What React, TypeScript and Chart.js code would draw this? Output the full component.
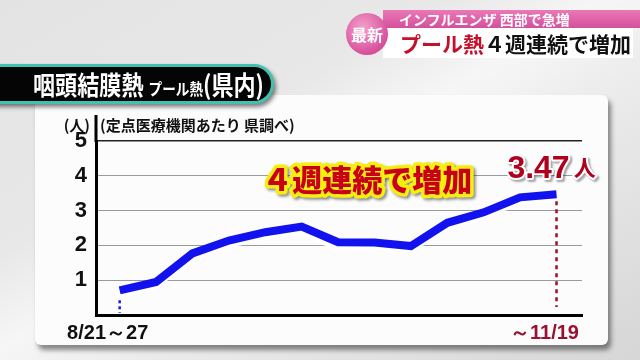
import { useEffect, useRef } from 'react';
import { Chart, registerables } from 'chart.js';

Chart.register(...registerables);

// ---- data ----
const weeks = [
  '8/21～27', '8/28～9/3', '9/4～10', '9/11～17', '9/18～24', '9/25～10/1',
  '10/2～8', '10/9～15', '10/16～22', '10/23～29', '10/30～11/5', '11/6～12', '11/13～19',
];
const values = [0.71, 0.95, 1.77, 2.14, 2.38, 2.54, 2.09, 2.08, 1.98, 2.65, 2.95, 3.38, 3.47];
const xTickLabels = ['8/21～27', '', '', '', '', '', '', '', '', '', '', '', '～11/19'];
const yTickValues = [1, 2, 3, 4, 5];
const headline = '４週連続で増加';
const lastLabelNumber = '3.47';
const lastLabelUnit = '人';
const unitLabel = '(人)';
const sourceLabel = '(定点医療機関あたり 県調べ)';

const JP = '"Noto Sans CJK JP", "Noto Sans", sans-serif';
const NUM = '"Liberation Sans", Arial, sans-serif';

const overlayPlugin = {
  id: 'overlay',
  beforeDatasetDraw(chart: any) {
    const ctx = chart.ctx;
    ctx.save();
    ctx.shadowColor = 'rgba(255,255,255,1)';
    ctx.shadowOffsetX = -2;
    ctx.shadowOffsetY = 4;
    ctx.shadowBlur = 1;
  },
  afterDatasetDraw(chart: any) {
    chart.ctx.restore();
  },
  beforeDatasetsDraw(chart: any) {
    const { ctx, chartArea, scales } = chart;
    const x = scales.x;
    const y = scales.y;
    ctx.save();
    // y axis extension above top
    ctx.strokeStyle = '#000';
    ctx.lineWidth = 3;
    ctx.beginPath();
    ctx.moveTo(chartArea.left, chartArea.top + 1);
    ctx.lineTo(chartArea.left, chartArea.top - 26);
    ctx.stroke();
    // texts above
    ctx.fillStyle = '#111';
    ctx.font = `bold 15px ${JP}`;
    ctx.textBaseline = 'middle';
    ctx.textAlign = 'right';
    ctx.fillText(unitLabel, chartArea.left - 6, chartArea.top - 16);
    ctx.textAlign = 'left';
    ctx.fillText(sourceLabel, chartArea.left + 4, chartArea.top - 16);

    // dotted drop lines
    const n = values.length;
    const x0 = x.getPixelForValue(0);
    const y0 = y.getPixelForValue(values[0]);
    ctx.setLineDash([3, 3]);
    ctx.lineWidth = 2.5;
    ctx.strokeStyle = '#1a1ae0';
    ctx.beginPath();
    ctx.moveTo(x0, y0 + 10);
    ctx.lineTo(x0, chartArea.bottom - 2);
    ctx.stroke();
    const xl = x.getPixelForValue(n - 1);
    const yl = y.getPixelForValue(values[n - 1]);
    ctx.setLineDash([4, 4]);
    ctx.strokeStyle = '#9a1030';
    ctx.beginPath();
    ctx.moveTo(xl, yl + 7);
    ctx.lineTo(xl, chartArea.bottom - 8);
    ctx.stroke();
    ctx.restore();
  },
  afterDatasetsDraw(chart: any) {
    const { ctx, scales } = chart;
    const x = scales.x;
    const y = scales.y;
    const n = values.length;
    ctx.save();
    // headline
    const hx = x.getPixelForValue(6.8);
    const hy = y.getPixelForValue(3.9);
    ctx.font = `900 30px ${JP}`;
    ctx.textAlign = 'center';
    ctx.textBaseline = 'middle';
    ctx.lineJoin = 'round';
    ctx.shadowColor = 'rgba(0,0,0,0.45)';
    ctx.shadowOffsetX = 2;
    ctx.shadowOffsetY = 2;
    ctx.shadowBlur = 3;
    ctx.strokeStyle = '#f6ee10';
    ctx.lineWidth = 7;
    ctx.strokeText(headline, hx, hy);
    ctx.shadowColor = 'transparent';
    ctx.fillStyle = '#c8001a';
    ctx.fillText(headline, hx, hy);

    // last value label
    const lx = x.getPixelForValue(n - 1);
    const ly = y.getPixelForValue(values[n - 1]);
    ctx.textBaseline = 'alphabetic';
    ctx.font = `bold 32px ${NUM}`;
    const numW = ctx.measureText(lastLabelNumber).width;
    ctx.font = `bold 22px ${JP}`;
    const unitW = ctx.measureText(lastLabelUnit).width;
    const total = numW + unitW + 4;
    const startX = lx - 5 - total / 2;
    const base = ly - 16;
    ctx.textAlign = 'left';
    ctx.shadowColor = 'rgba(0,0,0,0.35)';
    ctx.shadowOffsetX = 2;
    ctx.shadowOffsetY = 2;
    ctx.shadowBlur = 2;
    ctx.strokeStyle = '#fff';
    ctx.lineWidth = 4;
    ctx.font = `bold 32px ${NUM}`;
    ctx.strokeText(lastLabelNumber, startX, base);
    ctx.font = `bold 22px ${JP}`;
    ctx.strokeText(lastLabelUnit, startX + numW + 4, base - 2);
    ctx.shadowColor = 'transparent';
    ctx.fillStyle = '#b0001e';
    ctx.font = `bold 32px ${NUM}`;
    ctx.fillText(lastLabelNumber, startX, base);
    ctx.font = `bold 22px ${JP}`;
    ctx.fillText(lastLabelUnit, startX + numW + 4, base - 2);
    ctx.restore();
  },
};

function ChartCanvas() {
  const ref = useRef<HTMLCanvasElement | null>(null);
  useEffect(() => {
    if (!ref.current) return;
    const chart = new Chart(ref.current, {
      type: 'line',
      data: {
        labels: weeks,
        datasets: [
          {
            data: values.map((v, i) => ({ x: i, y: v })),
            borderColor: '#1212ee',
            borderWidth: 8,
            pointRadius: 0,
            tension: 0,
            borderCapStyle: 'butt',
            borderJoinStyle: 'miter',
            fill: false,
          },
        ],
      },
      options: {
        animation: false,
        responsive: false,
        maintainAspectRatio: false,
        layout: { padding: { left: 0, right: 58, top: 141, bottom: 12 } },
        plugins: { legend: { display: false }, tooltip: { enabled: false } },
        scales: {
          x: {
            type: 'linear',
            min: -0.65,
            max: 12.7,
            afterBuildTicks: (scale: any) => {
              scale.ticks = weeks.map((_, i) => ({ value: i }));
            },
            afterFit: (scale: any) => {
              scale.height = 33;
            },
            grid: { display: false, drawTicks: false },
            border: { display: true, color: '#000', width: 3 },
            ticks: {
              autoSkip: false,
              maxRotation: 0,
              padding: 6,
              labelOffset: -12,
              callback: (v: any) => xTickLabels[v] ?? '',
              color: (c: any) => (c.index === 0 ? '#111' : '#9a1030'),
              font: { family: NUM, size: 20, weight: 'bold' },
            },
          },
          y: {
            min: 0,
            max: 5,
            afterBuildTicks: (scale: any) => {
              scale.ticks = [0, ...yTickValues].map((v) => ({ value: v }));
            },
            afterFit: (scale: any) => {
              scale.width = 96;
            },
            grid: {
              drawTicks: false,
              color: (c: any) => (c.tick.value === 5 ? '#222' : c.tick.value === 0 ? 'rgba(0,0,0,0)' : '#9a9a9a'),
              lineWidth: (c: any) => (c.tick.value === 5 ? 1.5 : 1),
            },
            border: { display: true, color: '#000', width: 3 },
            ticks: {
              padding: 9,
              callback: (v: any) => (v === 0 ? '' : String(v)),
              color: '#111',
              font: { family: NUM, size: 22, weight: 'bold' },
            },
          },
        },
      },
      plugins: [overlayPlugin],
    } as any);
    return () => chart.destroy();
  }, []);
  return (
    <canvas
      ref={ref}
      width={640}
      height={360}
      style={{ position: 'absolute', left: 0, top: 0, width: 640, height: 360 }}
    />
  );
}

export default function App() {
  return (
    <div
      style={{
        position: 'fixed',
        left: 0,
        top: 0,
        width: 640,
        height: 360,
        overflow: 'hidden',
        background:
          'linear-gradient(150deg, #e3e3e3 0%, #e8e8e8 35%, #f6f6f6 48%, #ececec 60%, #dedede 85%, #d6d6d6 100%)',
        fontFamily: JP,
      }}
    >
      {/* card */}
      <div
        style={{
          position: 'absolute',
          left: 35,
          top: 95,
          width: 573,
          height: 250,
          background: '#fcfcfc',
          borderRadius: 6,
          boxShadow: '3px 5px 5px rgba(0,0,0,0.45)',
        }}
      />
      <ChartCanvas />
      {/* title pill */}
      <div
        style={{
          position: 'absolute',
          left: -24,
          top: 64,
          width: 292,
          height: 34,
          background: '#050505',
          border: '3px solid #3fc2b2',
          borderRadius: '0 21px 21px 0',
          boxShadow: '2px 3px 4px rgba(0,0,0,0.5)',
          color: '#fff',
          fontWeight: 'bold',
          whiteSpace: 'nowrap',
          overflow: 'hidden',
        }}
      >
        <div
          style={{
            position: 'absolute',
            left: 54,
            top: 0,
            height: 34,
            display: 'flex',
            alignItems: 'baseline',
            transform: 'scaleX(0.85)',
            transformOrigin: 'left center',
            lineHeight: '34px',
          }}
        >
          <span style={{ fontSize: 26 }}>咽頭結膜熱</span>
          <span style={{ marginLeft: 6, fontSize: 16 }}>プール熱</span>
          <span style={{ fontSize: 26 }}>(県内)</span>
        </div>
      </div>
      {/* top banner */}
      <div
        style={{
          position: 'absolute',
          left: 383,
          top: 10,
          width: 257,
          height: 18,
          background: 'linear-gradient(#ea78b6, #d4509c)',
          color: '#fff',
          fontWeight: 'bold',
          fontSize: 14,
          lineHeight: '18px',
          paddingLeft: 16,
          boxSizing: 'border-box',
          whiteSpace: 'nowrap',
        }}
      >
        インフルエンザ 西部で急増
      </div>
      <div
        style={{
          position: 'absolute',
          left: 383,
          top: 28,
          width: 250,
          height: 30,
          background: '#fff',
          fontWeight: 'bold',
          fontSize: 21,
          lineHeight: '30px',
          paddingLeft: 17,
          boxSizing: 'border-box',
          whiteSpace: 'nowrap',
          color: '#111',
        }}
      >
        <span style={{ color: '#c4102a' }}>プール熱</span>４週連続で増加
      </div>
      <div
        style={{
          position: 'absolute',
          left: 346,
          top: 13,
          width: 42,
          height: 42,
          borderRadius: '50%',
          background: 'radial-gradient(circle at 40% 35%, #f4a0cc, #d8509c 70%, #c83c88)',
          color: '#fff',
          fontWeight: 'bold',
          fontSize: 16,
          lineHeight: '42px',
          textAlign: 'center',
          whiteSpace: 'nowrap',
        }}
      >
        最新
      </div>
    </div>
  );
}
